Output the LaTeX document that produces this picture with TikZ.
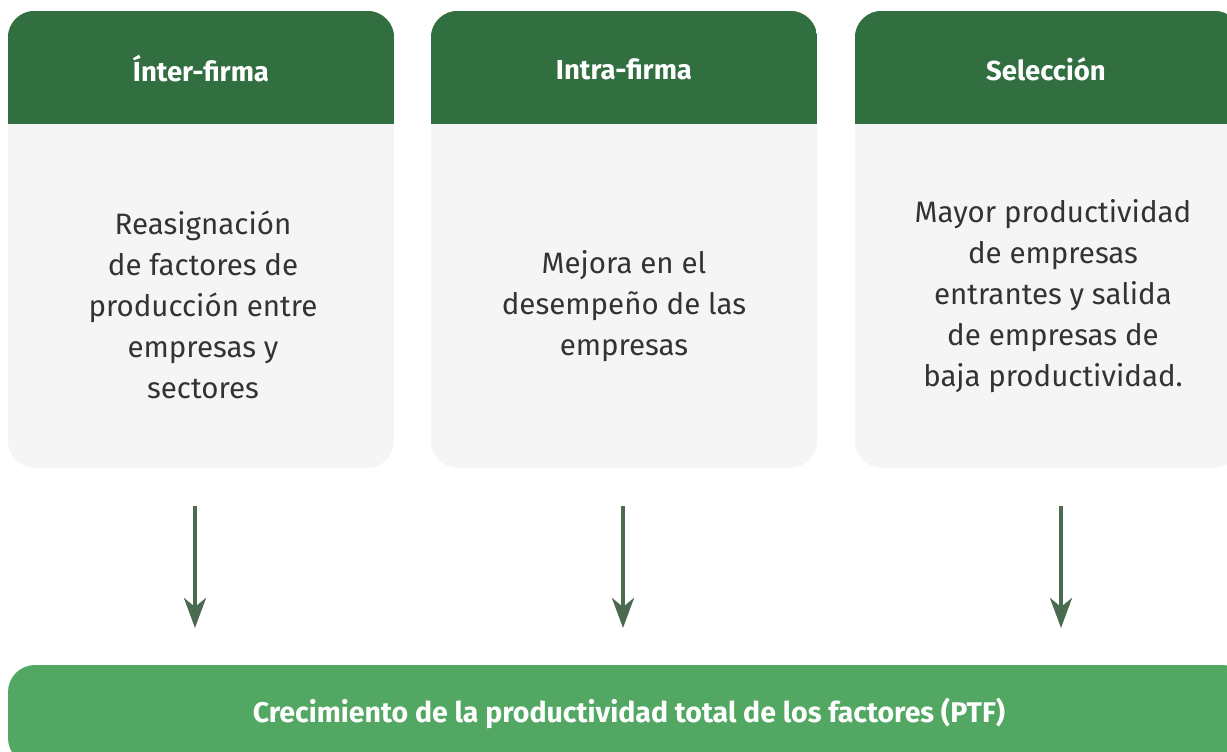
\documentclass[tikz,border=0pt]{standalone}
\usepackage{fontspec}
\setmainfont{Fira Sans}
\usetikzlibrary{arrows.meta}
\definecolor{hdr}{RGB}{49,111,64}
\definecolor{cuerpo}{RGB}{245,245,245}
\definecolor{base}{RGB}{82,168,98}
\definecolor{flecha}{RGB}{74,107,79}
\tikzset{
	panel/.style={fill=cuerpo,rounded corners=27pt,minimum width=386pt,minimum height=457pt,inner sep=0pt},
	titulo/.style={text=white,font=\fontsize{27.5}{30}\selectfont\bfseries},
	texto/.style={text=black!80,align=center,font=\fontsize{29.5}{41}\selectfont},
	conector/.style={flecha,line width=4.5pt,-{Stealth[length=30pt,width=22pt,inset=9pt]}}
}
\begin{document}
\begin{tikzpicture}[x=1pt,y=-1pt]
	\useasboundingbox (0,0) rectangle (1227,752);
	\node[panel] at (201,239.5) (inter) {};
	\node[panel] at (624,239.5) (intra) {};
	\node[panel] at (1048,239.5) (sel) {};
	\foreach \p in {inter,intra,sel}{
		\begin{scope}
			\clip[rounded corners=27pt] (\p.south west) rectangle (\p.north east);
			\fill[hdr] (\p.north west) rectangle (\p.east |- 0,124);
		\end{scope}}
	\node[fill=base,rounded corners=27pt,minimum width=1242pt,minimum height=100pt] at (629,715) (ptf) {};
	\node[titulo] at (201,69) (tinter) {Ínter-firma};
	\node[titulo] at (624,69) (tintra) {Intra-firma};
	\node[titulo] at (1046,69) (tsel) {Selección};
	\node[texto] at (203,305) (xinter) {Reasignación\\de factores de\\producción entre\\empresas y\\sectores};
	\node[texto] at (624,306) (xintra) {Mejora en el\\desempeño de las\\empresas};
	\node[texto] at (1053,296) (xsel) {Mayor productividad\\de empresas\\entrantes y salida\\de empresas de\\baja productividad.};
	\node[titulo,font=\fontsize{28.5}{30}\selectfont\bfseries] at (629,713) (tptf) {Crecimiento de la productividad total de los factores (PTF)};
	\coordinate (a1) at (195,506);
	\coordinate (b1) at (195,628);
	\coordinate (a2) at (623,506);
	\coordinate (b2) at (623,628);
	\coordinate (a3) at (1061,506);
	\coordinate (b3) at (1061,628);
	\path (a1) edge[conector] (b1)
	(a2) edge[conector] (b2)
	(a3) edge[conector] (b3);
\end{tikzpicture}
\end{document}
